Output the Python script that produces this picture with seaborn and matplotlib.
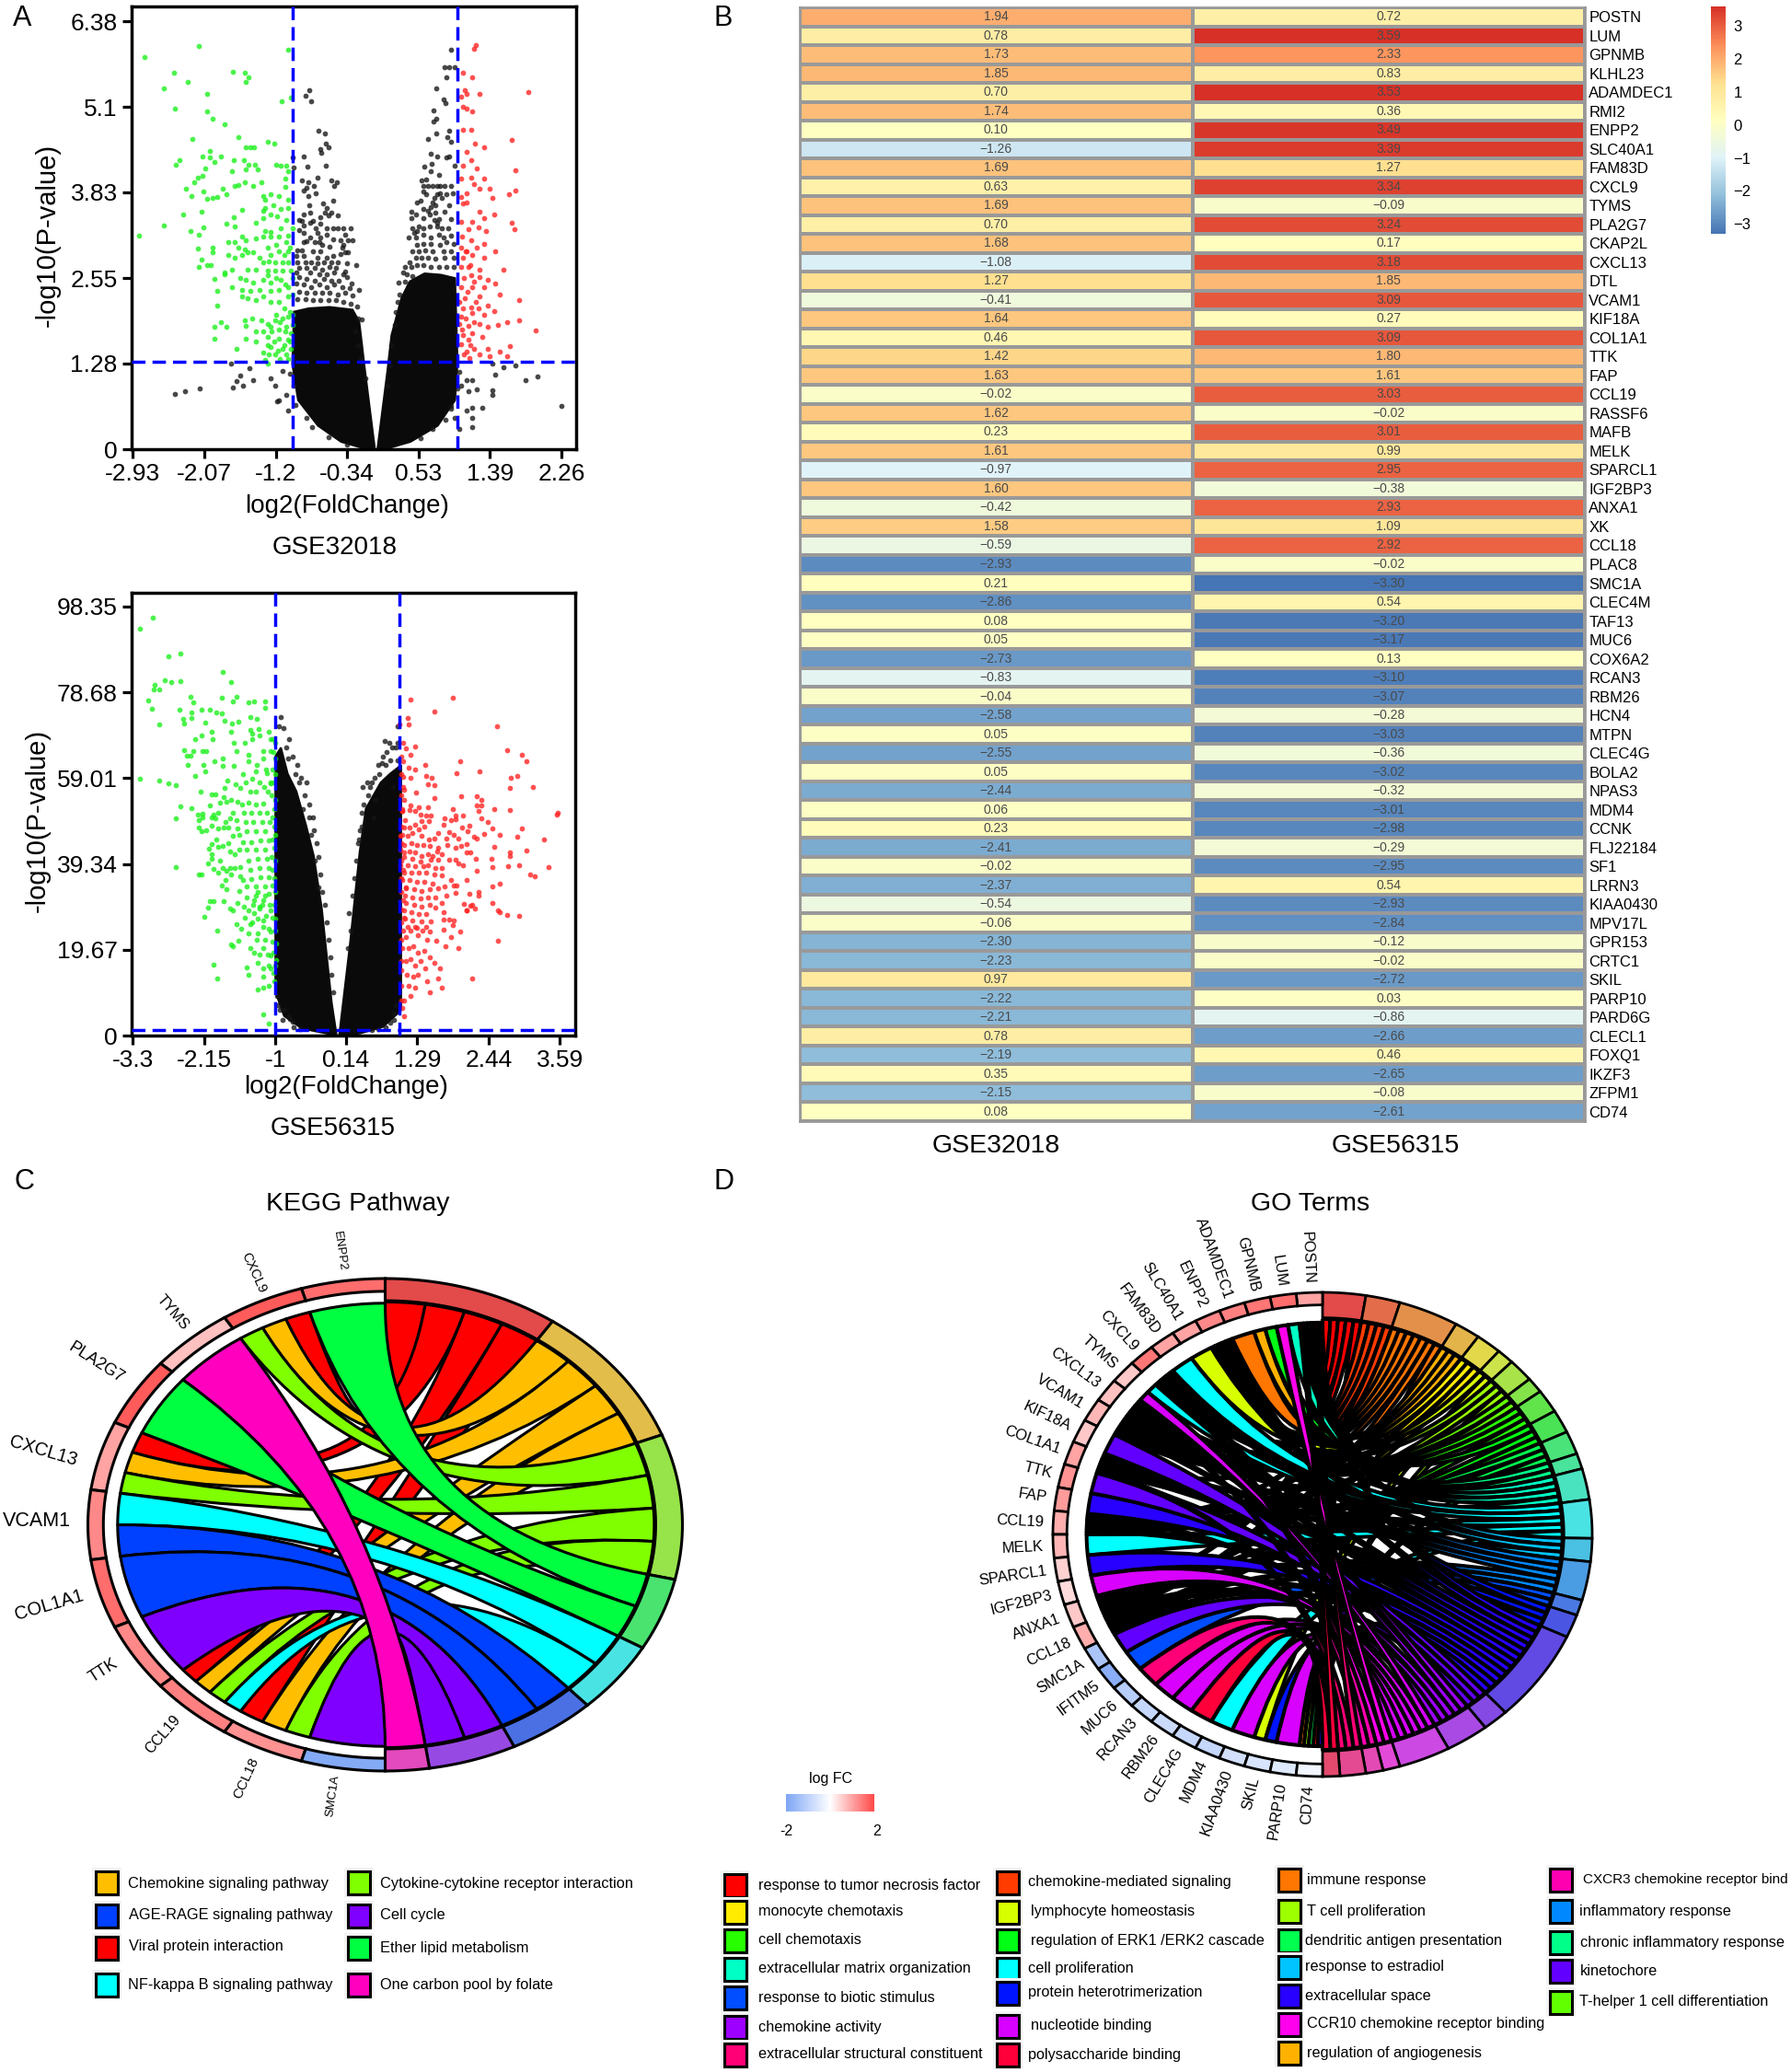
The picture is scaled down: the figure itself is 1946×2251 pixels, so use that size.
import numpy as np
import pandas as pd
import seaborn as sns
import matplotlib.pyplot as plt
from matplotlib.colors import LinearSegmentedColormap
from matplotlib.patches import PathPatch, Polygon, Rectangle
from matplotlib.path import Path

W, H = 1946, 2251

# volcano GSE32018, values
a_xticks = [-2.93, -2.07, -1.2, -0.34, 0.53, 1.39, 2.26]
a_yticks = [0, 1.28, 2.55, 3.83, 5.1, 6.38]
a_green = [(-2.79,5.84),(-2.13,6.01),(-2.43,5.61),(-2.27,5.48),(-2.56,5.38),(-2.42,5.08),(-2.03,5.29),(-2.03,5.03),
(-1.72,5.63),(-1.58,5.61),(-1.53,5.54),(-1.56,5.48),(-1.96,4.93),(-1.82,4.84),(-1.05,5.95),(-1.13,5.18),(-1.02,5.24),
(-2.21,4.63),(-1.65,4.65),(-1.30,4.58),(-1.22,4.56),(-1.56,4.5),(-1.51,4.5),(-1.46,4.5),(-2.0,4.44),(-2.09,4.37),
(-2.0,4.35),(-1.86,4.37),(-1.94,4.28),(-2.37,4.31),(-2.41,4.24),(-1.71,4.31),(-1.59,4.31),(-1.53,4.24),(-1.45,4.24),
(-1.56,4.17),(-2.05,4.19),(-1.73,4.15),(-1.42,4.17),(-1.2,4.24),(-1.14,4.22),(-1.07,4.23),(-1.05,4.15),(-1.09,4.04),
(-2.09,4.08),(-2.14,4.05),(-2.19,3.98),(-1.57,3.98),(-1.65,3.94),(-1.70,3.93),(-1.37,3.98),(-1.48,3.93),(-2.29,3.89),
(-2.08,3.84),(-1.84,3.88),(-2.22,3.78),(-2.03,3.73),(-1.97,3.75),(-1.91,3.76),(-1.80,3.8),(-1.35,3.77),(-1.26,3.80),
(-1.33,3.72),(-1.16,3.77),(-1.09,3.91),(-1.05,3.72),(-1.33,3.60),(-1.23,3.63),(-1.14,3.58),(-1.05,3.60),(-1.35,3.55),
(-1.26,3.50),(-1.19,3.47),(-1.07,3.42),(-1.35,3.44),(-2.1,3.54),(-2.32,3.5),(-1.61,3.57),(-2.55,3.33),(-1.71,3.46),
(-1.80,3.36),(-1.70,3.32),(-1.44,3.38),(-2.23,3.25),(-2.08,3.31),(-2.13,3.2),(-2.86,3.18),(-1.33,3.25),(-1.26,3.24),
(-1.14,3.30),(-1.35,3.17),(-1.05,3.19),(-1.61,3.17),(-1.56,3.12),(-1.77,3.09),(-1.70,3.09),(-1.07,3.09),(-1.16,3.17),
(-1.26,3.17),(-1.44,3.14),(-2.14,2.99),(-1.96,3.01),(-1.96,2.93),(-2.10,2.82),(-2.03,2.75),(-2.13,2.71),(-1.99,2.74),
(-1.65,3.01),(-1.58,2.98),(-1.54,2.93),(-1.48,2.93),(-1.70,2.85),(-1.77,2.90),(-1.61,2.90),(-1.30,3.01),(-1.16,2.95),
(-1.05,2.95),(-1.26,2.90),(-1.40,2.85),(-1.35,2.79),(-1.28,2.80),(-1.21,2.79),(-1.12,2.79),(-1.05,2.79),(-1.82,2.63),
(-1.73,2.68),(-1.54,2.68),(-1.44,2.68),(-1.30,2.66),(-1.21,2.66),(-1.12,2.66),(-1.02,2.66),(-1.94,2.54),(-1.63,2.55),
(-1.56,2.52),(-1.47,2.49),(-1.35,2.52),(-1.26,2.49),(-1.14,2.52),(-1.91,2.36),(-1.82,2.61),(-1.73,2.41),(-1.61,2.38),
(-1.51,2.36),(-1.40,2.38),(-1.26,2.36),(-1.16,2.38),(-1.05,2.41),(-1.91,2.14),(-1.61,2.28),(-1.54,2.25),(-1.44,2.22),
(-1.35,2.28),(-1.26,2.20),(-1.16,2.20),(-1.05,2.28),(-1.87,1.90),(-1.94,1.82),(-1.80,1.83),(-1.58,1.92),(-1.49,1.95),
(-1.56,1.84),(-1.37,1.92),(-1.30,1.87),(-1.21,1.92),(-1.12,1.95),(-1.05,1.98),(-1.0,2.01),(-1.94,1.65),(-1.56,1.65),
(-1.44,1.76),(-1.35,1.76),(-1.26,1.82),(-1.16,1.79),(-1.07,1.82),(-1.02,1.73),(-1.68,1.49),(-1.44,1.60),(-1.30,1.68),
(-1.16,1.65),(-1.05,1.63),(-1.35,1.44),(-1.26,1.52),(-1.12,1.49),(-1.02,1.49),(-1.21,1.41),(-1.07,1.41),(-1.33,1.33),(-1.30,1.27),
(-1.2,2.0),(-1.1,2.1),(-1.03,2.05),(-1.15,1.9),(-1.08,1.75),(-1.0,1.85),(-1.25,1.75),(-1.22,1.6),(-1.1,1.55),(-1.17,1.47),(-1.03,1.6),(-1.3,1.55),
(-1.28,1.42),(-1.05,1.35),(-1.15,1.35),(-1.0,2.3),(-1.08,2.45),(-1.0,2.55),(-1.2,2.55),(-1.3,2.6),(-1.1,2.9),(-1.03,3.0),(-1.2,3.05),(-1.0,3.3)]
a_red = [(1.22,6.02),(1.20,5.97),(1.06,5.61),(1.18,5.54),(1.09,5.35),(1.11,5.29),(1.04,5.26),(1.27,5.29),(1.86,5.33),
(1.06,5.11),(1.11,5.08),(1.18,5.03),(1.06,4.76),(1.16,4.76),(1.21,4.56),(1.11,4.43),(1.32,4.50),(1.65,4.61),(1.16,4.31),
(1.06,4.23),(1.23,4.18),(1.70,4.16),(1.04,4.04),(1.16,4.05),(1.32,4.04),(1.20,3.95),(1.11,3.82),(1.04,3.76),(1.27,3.88),
(1.39,3.89),(1.42,3.74),(1.70,3.86),(1.62,3.80),(1.06,3.66),(1.11,3.68),(1.27,3.54),(1.44,3.50),(1.04,3.39),(1.18,3.39),
(1.32,3.44),(1.65,3.38),(1.69,3.28),(1.13,3.28),(1.25,3.31),(1.05,3.17),(1.16,3.12),(1.34,3.25),(1.04,3.01),(1.11,2.95),
(1.23,3.01),(1.32,3.06),(1.46,2.95),(1.06,2.85),(1.18,2.90),(1.32,2.85),(1.04,2.71),(1.13,2.71),(1.27,2.68),(1.56,2.68),
(1.16,2.59),(1.27,2.57),(1.37,2.52),(1.04,2.41),(1.18,2.41),(1.32,2.41),(1.46,2.47),(1.09,2.25),(1.27,2.28),(1.51,2.30),
(1.74,2.22),(1.02,2.20),(1.16,2.11),(1.37,2.14),(1.04,1.98),(1.18,2.03),(1.32,2.00),(1.44,2.06),(1.02,1.87),(1.13,1.84),
(1.27,1.87),(1.60,1.90),(1.74,1.92),(1.06,1.70),(1.18,1.73),(1.37,1.82),(1.49,1.85),(1.95,1.77),(1.04,1.57),(1.13,1.63),
(1.30,1.68),(1.63,1.54),(1.11,1.46),(1.20,1.49),(1.37,1.49),(1.51,1.46),(1.60,1.38),(1.14,1.36),(1.27,1.41),(1.39,1.38),
(1.1,2.95),(1.15,2.75),(1.08,2.55),(1.2,2.5),(1.12,2.35),(1.22,2.2),(1.07,2.1),(1.25,2.1),(1.1,1.95),(1.2,1.9),(1.05,1.78),(1.15,1.55),(1.08,1.42)]
a_black = [(-.84,5.27),(-.79,5.35),(-.77,5.18),(-.68,4.75),(-.61,4.71),(-.60,4.56),(-.56,4.50),(-.66,4.48),(-.65,4.42),
(-1.0,4.35),(-.86,4.37),(-.82,4.21),(-.60,4.23),(-.99,4.20),(-.69,4.05),(-.88,4.00),(-.81,3.98),(-.53,4.00),(-.46,3.98),
(-.83,3.90),(-.74,3.93),(-.49,3.93),(-.86,3.85),(-.72,3.82),(-.81,3.77),(-.51,3.71),(-.63,3.66),(-.79,3.63),(-.58,3.60),
(.92,5.95),(.84,5.69),(.90,5.69),(.97,5.69),(.87,5.54),(.74,5.38),(.83,5.22),(.85,5.16),(.71,5.05),(.74,4.93),(.71,4.88),
(.90,4.75),(.74,4.71),(.64,4.63),(.88,4.65),(.92,4.58),(.67,4.40),(.75,4.37),(.90,4.36),(.87,4.35),(.60,4.21),(.69,4.25),
(.68,4.14),(.97,4.23),(.78,4.09),
(-1.74,1.27),(-1.52,1.21),(-1.63,1.10),(-1.68,1.01),(-1.47,1.03),(-1.60,.95),(-1.72,.92),(-2.12,.90),(-2.30,.87),(-2.42,.82),
(-1.26,1.06),(-1.21,.95),(-1.12,1.17),(-1.16,.73),(-1.07,.81),(-1.19,.71),(-1.05,.57),(1.11,1.03),(1.18,1.03),(1.04,.95),
(1.13,.87),(1.23,.89),(1.42,.88),(1.42,.81),(1.18,.62),(1.30,.62),(1.11,.57),(1.18,.46),(1.18,.33),(1.42,1.27),(1.45,1.11),
(1.56,1.22),(1.70,1.25),(1.82,1.03),(1.97,1.09),(2.26,.65),(.97,.46),(.92,.65),(1.02,.30)]
a_black_left = [(-.918,3.42),(-.863,3.50),(-.788,3.52),(-.603,3.52),(-.528,3.52),(-.454,3.48),(-.881,3.40),(-.863,3.34),(-.788,3.38),(-.751,3.40),
(-.658,3.46),(-.565,3.48),(-.658,3.36),(-.714,3.29),(-.584,3.29),(-.51,3.29),(-.454,3.29),(-.38,3.29),(-.294,3.29),(-.918,3.27),(-.863,3.22),
(-.695,3.22),(-.788,3.155),(-.863,3.09),(-.825,3.10),(-.658,3.155),(-.584,3.20),(-.51,3.13),(-.417,3.12),(-.361,3.20),(-.332,3.12),(-.268,3.12),
(-.733,3.09),(-.677,3.09),(-.547,3.02),(-.64,3.04),(-.38,3.05),(-.398,3.0),(-.881,2.96),(-.937,2.97),(-.751,2.95),(-.658,2.95),(-.51,2.88),(-.417,2.91),
(-.361,2.93),(-.324,2.93),(-.955,2.88),(-.863,2.88),(-.695,2.86),(-.584,2.86),(-.937,2.79),(-.844,2.79),(-.77,2.79),(-.695,2.77),(-.621,2.79),(-.528,2.79),
(-.454,2.79),(-.343,2.77),(-.231,2.74),(-.918,2.70),(-.825,2.70),(-.733,2.70),(-.64,2.68),(-.547,2.72),(-.473,2.70),(-.361,2.65),(-.955,2.63),(-.788,2.63),
(-.677,2.61),(-.584,2.61),(-.491,2.63),(-.38,2.61),(-.918,2.56),(-.825,2.54),(-.733,2.51),(-.621,2.54),(-.528,2.51),(-.436,2.51),(-.343,2.56),(-.28,2.47),
(-.955,2.47),(-.863,2.45),(-.77,2.42),(-.677,2.45),(-.584,2.42),(-.491,2.45),(-.398,2.42),(-.306,2.40),(-.194,2.38),(-.918,2.35),(-.825,2.33),(-.733,2.33),
(-.64,2.33),(-.547,2.33),(-.454,2.31),(-.361,2.33),(-.268,2.29),(-.937,2.24),(-.844,2.24),(-.751,2.22),(-.658,2.22),(-.565,2.22),(-.473,2.22),(-.38,2.19),
(-.294,2.17),(-.213,2.13),(-.157,1.94),(-.21,1.95),(-.24,1.75),(-.2,1.55),(-.17,1.35),(-.12,1.05),(-1.03,1.12),(-.99,.95),(-.96,.66),(-.83,.46),(-.76,.33),(-.56,.18),(-.34,.07)]
a_black_right = [(.567,4.0),(.623,4.02),(.586,3.93),(.642,3.93),(.697,3.93),(.753,3.93),(.79,3.93),(.846,3.93),(.92,3.93),(.586,3.84),(.623,3.80),(.753,3.80),
(.79,3.82),(.864,3.80),(.939,3.82),(.716,3.75),(.809,3.75),(.512,3.68),(.549,3.70),(.697,3.68),(.679,3.61),(.734,3.64),(.902,3.64),(.586,3.58),(.642,3.55),
(.734,3.52),(.445,3.54),(.493,3.50),(.437,3.44),(.586,3.45),(.66,3.50),(.846,3.54),(.772,3.43),(.92,3.43),(.53,3.32),(.716,3.41),(.753,3.38),(.456,3.29),
(.475,3.22),(.512,3.25),(.586,3.29),(.66,3.32),(.753,3.32),(.809,3.29),(.883,3.29),(.408,3.16),(.493,3.16),(.586,3.20),(.679,3.16),(.772,3.20),(.827,3.16),
(.92,3.18),(.512,3.04),(.586,3.06),(.679,3.06),(.79,3.04),(.864,3.09),(.957,3.06),(.456,2.95),(.53,2.95),(.605,2.97),(.697,2.95),(.827,2.95),(.92,2.95),
(.419,2.79),(.493,2.86),(.567,2.86),(.642,2.86),(.734,2.84),(.846,2.86),(.957,2.86),(.363,2.72),(.437,2.72),(.512,2.74),(.586,2.74),(.679,2.72),(.772,2.72),
(.864,2.72),(.957,2.72),(.345,2.64),(.289,2.49),(.382,2.61),(.456,2.58),(.3,2.3),(.27,2.2),(.25,2.05),(.36,2.5),(.24,1.85),(.2,1.55),(.18,1.25),(.15,.95),(1.02,1.15),(1.0,.9),(.92,.6),(.85,.44),(.7,.3),(.55,.17)]
a_left_lobe = [(0.0,0.0),(-.13,1.27),(-.155,1.54),(-.19,1.9),(-.27,2.08),(-.55,2.12),(-.8,2.1),(-.98,2.05),(-1.0,1.27),(-.93,.73),(-.69,.35),(-.41,.11),(-.1,0.0)]
a_right_lobe = [(.03,0.0),(.15,1.16),(.2,1.7),(.32,2.25),(.42,2.5),(.6,2.62),(.8,2.6),(.97,2.55),(1.0,1.3),(.97,.73),(.76,.35),(.43,.11),(.15,.01)]

# volcano GSE56315
b_xticks = [-3.3, -2.15, -1, 0.14, 1.29, 2.44, 3.59]
b_yticks = [0, 19.67, 39.34, 59.01, 78.68, 98.35]
b_green = [(-2.98,95.8),(-3.19,93.3),(-2.73,87),(-2.54,87.6),(-1.85,83.4),(-1.71,81),(-2.78,81.4),(-2.68,81.1),(-2.53,81.2),
(-2.95,80.4),(-2.96,79.3),(-2.87,79.3),(-3.06,76.8),(-2.99,74.9),(-2.88,71.3),(-2.37,77.7),(-2.33,76.4),(-1.62,77.7),(-1.68,76.5),
(-1.87,77.5),(-1.44,76.3),(-1.35,76.5),(-1.16,76.5),(-1.16,75.2),(-2.55,74.6),(-2.36,74.1),(-2.19,74.6),(-2.05,74.8),(-1.96,74.1),
(-1.87,73.9),(-2.49,72.5),(-2.48,71.6),(-2.36,72.7),(-2.13,71.8),(-2.03,69.6),(-1.82,72.1),(-1.40,73.1),(-1.30,72.5),(-1.60,72),
(-1.70,71.6),(-1.27,70.3),(-1.40,70),(-1.10,69.6),(-1.72,69.6),(-1.37,69.2),(-2.19,68.8),(-2.29,67.9),(-2.01,67.9),(-1.25,68.7),
(-1.67,67),(-1.49,67),(-1.37,67.9),(-1.07,67.9),(-2.48,65.4),(-2.32,65.1),(-2.37,64.1),(-2.43,64.1),(-2.18,65.2),(-2.12,65.2),
(-2.41,62),(-2.16,62),(-1.98,62.8),(-1.85,63.6),(-1.63,65.2),(-1.44,64.4),(-1.19,65.2),(-1.07,65.2),(-1.85,61.9),(-1.67,61.9),
(-1.44,62.8),(-1.19,63.6),(-1.0,63.6),(-3.19,58.8),(-2.87,58.5),(-2.73,57.9),(-2.61,57.5),(-2.29,59.6),(-2.13,60.5),(-1.77,58.5),
(-1.64,57.7),(-1.32,60.5),(-1.14,60.1),(-1.04,61),(-1.82,56.7),(-1.57,56.7),(-1.38,58.8),(-1.07,57.9),(-2.53,52.6),(-2.35,52.2),(-2.60,49.8),
(-2.6,38.6),(-2.19,36.9),(-2.15,27.3),(-1.94,24),(-1.72,20.9),(-1.60,21.7),(-1.44,23.4),(-1.28,23.4),(-1.07,23.8),(-.99,21.2),(-1.63,25.6),(-1.38,26),(-1.19,26.4),(-1.0,26.9),
(-1.69,28.6),(-1.44,28.6),(-1.25,29.1),(-1.07,28.6),(-1.41,20),(-1.19,20),(-1.07,18.3),(-.99,17.4),(-2.0,16.3),(-1.94,13.1),(-1.47,15.7),(-1.29,16.6),(-1.10,16.1),(-1.44,14),(-1.19,13.5),
(-1.03,14.4),(-1.29,10.5),(-1.19,10.9),(-1.10,11.3),(-1.19,4.9),(-1.10,2.8),(-1.69,20.4)]
b_green_mid = [(-2.2,55.9),(-2.03,55.2),(-1.97,55.2),(-1.83,54.6),(-2.05,52.8),(-1.89,53.3),(-1.79,53.5),(-1.71,54),(-1.61,53.5),(-1.54,53),(-1.43,53.3),(-1.31,53),(-1.19,53.2),
(-2.25,50.7),(-2.17,50.9),(-2.17,50),(-2.24,49.3),(-2,50.7),(-1.93,51.1),(-2.03,50),(-1.97,49.8),(-1.69,51.1),(-1.73,49.8),(-1.81,49),(-1.63,49.3),(-1.51,51.1),(-1.39,51.1),(-1.26,51.1),(-1.14,51.1),
(-2.03,48.1),(-2.23,47.7),(-2.12,47),(-2.19,46.8),(-1.93,47.5),(-1.83,47.7),(-1.76,47.7),(-1.61,47.5),(-1.48,49),(-1.36,49),(-1.21,49),(-1.09,49),
(-1.95,44.9),(-2.03,43.9),(-2.07,42.9),(-1.93,43.3),(-1.85,43.5),(-1.76,44),(-1.68,45.8),(-1.58,46.1),(-1.46,46.8),(-1.31,46.8),(-1.16,46.8),
(-1.73,42.3),(-1.66,41.6),(-1.53,44.4),(-1.39,44.4),(-1.24,44.7),(-1.11,44.7),(-2.03,41.6),(-2.03,40.6),(-2.09,39.4),(-1.89,40.1),(-1.58,42.6),(-1.46,42.6),(-1.31,42.6),(-1.16,42.6),
(-2,38.2),(-1.93,37.3),(-1.85,38.5),(-1.73,38.5),(-1.65,38.5),(-1.56,38.7),(-1.43,40.1),(-1.29,40.5),(-1.14,40.5),(-2.24,37),(-1.71,37),(-1.79,37.7),(-1.56,36.6),(-1.41,38),(-1.26,38.4),(-1.11,38.4),
(-1.87,34.5),(-1.79,33.6),(-1.81,35.7),(-1.53,35.6),(-1.39,35.9),(-1.24,36.3),(-1.11,36.3),(-1.58,33.1),(-1.46,34.2),(-1.31,34.2),(-1.16,34.2),
(-1.83,30.8),(-2.05,30.8),(-2,30.8),(-1.73,29.2),(-2.08,29.4),(-1.61,30.3),(-1.46,31.7),(-1.31,32),(-1.16,32),(-1.51,29.6),(-1.36,29.9),(-1.21,29.9),(-1.09,29.9),
(-1.35,31),(-1.28,33),(-1.2,31),(-1.25,29.5),(-1.1,32.5),(-1.05,34.5),(-1.02,30),(-1.35,28),(-1.15,27.5),(-1.28,26.8),(-1.05,27),(-1.2,25),(-1.4,25.5),(-1.1,24.5),(-1.0,24),(-1.3,22),(-1.17,22),(-1.05,21.5),
(-1.5,27),(-1.55,24.5),(-1.35,19),(-1.25,18.5),(-1.12,18.5),(-1.03,19),(-1.0,16),(-1.2,15.5),(-1.08,15.5),(-1.02,12.5),(-1.0,46),(-1.02,43),(-1.0,40),(-1.05,38),(-1.02,36),(-1.0,33),(-1.06,41),(-1.04,45),
(-1.02,48),(-1.05,50),(-1.02,52),(-1.0,54),(-1.06,55),(-1.03,58),(-1.0,60),(-1.08,58),(-1.12,56),(-1.18,57),(-1.25,58),(-1.32,56),(-1.4,56),(-1.48,58),(-1.52,60),(-1.3,62),(-1.15,61),(-1.03,65),(-1.0,67),(-1.05,68)]
b_red = [(1.18,77),(1.87,77.4),(1.56,74.3),(1.13,72.9),(1.15,71.4),(1.0,71.4),(2.57,71),(1.11,65.9),(1.25,66.2),(1.06,67.1),(1.18,64.4),
(1.42,62),(1.06,62.9),(1.15,61.5),(1.25,61),(1.99,62.9),(2.74,65.5),(2.98,64.3),(3.06,62.9),(1.93,60.1),(2.29,60.5),(2.8,59),(2.91,59.5),
(3.15,57),(1.44,59.5),(1.53,59),(1.06,59.3),(1.18,59),(1.46,57.7),(1.57,57.3),(2.79,56.7),(1.08,56.3),(1.27,55.8),(2.0,54.9),(2.25,54.9),(2.33,54.1),(1.08,54.1),
(1.57,54.4),(1.32,52.4),(1.18,52.8),(1.46,52.4),(2.25,52.8),(2.33,52.8),(2.28,51.5),(2.53,52),(2.79,51.7),(3.54,50.6),(3.56,51),(1.05,51.5),(1.87,52),
(2.33,49.8),(2.43,48.9),(2.5,47.5),(2.98,47.5),(2.37,46.3),(2.62,45.9),(2.9,45.5),(3.33,45),(2.53,43.3),(2.79,42),(3.06,42.4),(2.49,40.6),(2.79,41.1),(2.5,38.6),(2.75,38.8),(2.93,39.1),(3.41,38.6),(3.11,37),(3.18,36.6),
(2.62,34.9),(2.5,34.2),(2.28,32.9),(2.28,32),(2.18,30),(2.5,30.4),(2.59,28.6),(2.09,28.6),(2.62,28.3),(2.74,27.7),(2.93,27.4),(2.59,21.7),(2.18,13.1),
(1.03,48),(1.05,46),(1.03,44),(1.08,42),(1.03,40),(1.06,38),(1.03,36),(1.1,34),(1.03,33),(1.06,31),(1.03,29),(1.08,27),(1.03,26),(1.06,24),(1.03,22),(1.1,22.5),(1.18,24),(1.25,25),(1.3,23),(1.38,24),(1.45,22),
(1.15,20),(1.22,20.5),(1.3,19),(1.4,19.5),(1.5,18),(1.05,20),(1.03,17),(1.1,17),(1.18,17.5),(1.25,16),(1.35,17),(1.42,15.5),(1.03,15),(1.12,14),(1.22,13.5),(1.3,14),(1.45,12.5),(1.03,11.5),(1.15,11.5),(1.25,11),(1.5,10),
(1.08,8),(1.18,9),(1.03,8),(1.04,52),(1.03,55),(1.06,57),(1.03,60),(1.03,64),(1.05,6.3),(1.08,4.5),(1.6,21.7),(1.84,22.5),(1.74,20.4),(1.96,20),(1.56,16.6),(1.65,15.3),(1.62,13),(1.69,11),(1.99,23.8),(1.71,24.2),(1.49,23.8)]
b_red_mid = [(1.04,51.4),(1.16,51.7),(1.26,51.4),(1.44,50.4),(1.51,50.4),(1.34,50.7),(1.09,49.3),(1.26,48.4),(1.36,49.1),(1.48,49.1),(1.72,48.4),(1.83,49.3),(1.91,49.5),(1.91,50.5),(2.03,50.5),(2.02,47.7),(2.13,48.1),(2.10,46.9),(1.73,49.8),
(1.07,47.6),(1.16,47.6),(1.31,47.2),(1.41,47.9),(1.14,45.8),(1.02,45.8),(1.21,46.5),(1.36,45.8),(1.48,44.9),(1.56,45.1),(1.63,46.5),(1.81,46.7),(1.88,46),(1.96,45.1),(1.76,45.1),(2.2,45.5),(2.25,45.1),
(1.07,43.7),(1.19,44.2),(1.29,43.7),(1.39,43.7),(1.49,43.5),(1.63,43),(1.61,42.3),(1.78,43.7),(1.91,43),(2.0,43.5),(2.09,43.9),(2.08,41.9),(2.15,41.9),(1.02,42.6),(1.16,42.3),(1.26,41.9),(1.36,41.2),(1.46,41.6),(1.54,41.2),(1.68,41.6),(1.81,40.2),(1.91,40.2),
(1.07,40.9),(1.21,40.5),(1.34,39.8),(1.51,40.2),(1.63,40.2),(1.96,39.5),(2.03,39.1),(2.24,40.5),(1.02,39.1),(1.14,39.1),(1.26,38.8),(1.39,38.8),(1.46,39.1),(1.58,38.4),(1.68,38.4),(2.25,37.7),
(1.07,37.4),(1.19,37.4),(1.31,37.4),(1.44,37.4),(1.56,37),(1.68,36.7),(1.83,35.6),(1.93,34.5),(2.08,35.6),(1.04,35.6),(1.16,35.6),(1.29,35.2),(1.41,35.2),(1.54,34.9),(1.63,33.8),(1.73,34.2),(1.88,34.5),(2.13,32.4),
(1.11,33.8),(1.24,33.5),(1.36,33.1),(1.49,33.5),(1.76,32.1),(1.91,32.8),(1.09,32.1),(1.21,31.7),(1.34,31.4),(1.46,31.7),(1.58,31.7),(1.68,30.3),(2.05,30.1),(2.15,29.8),(2.09,28.6),(2.22,29.1),
(1.11,30.3),(1.24,30),(1.36,29.6),(1.49,30),(1.58,29.3),(1.07,28.6),(1.19,28.2),(1.31,27.8),(1.44,27.8),(1.71,28.2),(1.09,26.8),(1.21,26.4),(1.36,26.1),(1.51,26.1),(1.81,26.6),(1.88,26.4),(1.71,26.6),(1.86,25.4),(1.14,25),(1.29,24.7),(1.44,25)]
b_black = [(-.92,73),(-.95,71),(-.87,70.5),(-.82,66),(-.8,63.5),(-.68,60),(-.62,58),(-.52,55),(-.46,50),(-.42,46),(-.36,40),(-.3,34),(-.98,9),(-.96,7),(-.85,6),(-.8,4.5),
(-.72,3.2),(-.76,3.8),(.41,57),(.5,55),(.56,58),(.62,54),(.68,60),(.72,62.5),(.78,62),(.85,63),(.9,57),(.98,63),(.98,67),(.76,67.6),(.84,67.2),(.98,71),(.58,50),(.4,48),(.35,45),(.92,5),(.78,2),
(-.78,68),(-.72,64),(-.64,62),(-.58,59),(-.5,58),(-.55,52),(-.46,53),(-.4,50),(-.38,47),(-.33,44),(-.31,41),(-.27,37),(-.25,33),(-.2,30),(-.17,26),(-.14,22),(-.11,18),(-.09,14),(-.06,10),(-.93,6),(-.88,3.5),(-.7,2),(-.6,1.5),
(.22,24),(.19,28),(.17,20),(.25,32),(.28,36),(.3,40),(.33,44),(.36,47),(.39,51),(.42,53),(.48,58),(.52,57),(.6,59),(.66,62),(.74,64),(.8,65),(.88,66),(.95,66),(.92,3.5),(.85,3),(.66,1.5),(.95,7),(.55,1.2)]
b_left_lobe = [(-1.0,64),(-.91,66),(-.8,60),(-.66,56),(-.5,48),(-.38,41.2),(-.25,29.1),(-.09,7.5),(-.01,0.0),(-.57,1.6),(-.86,4.5),(-1.0,10.1)]
b_right_lobe = [(.03,0.0),(.2,20.4),(.36,42),(.46,52),(.7,58),(.85,60),(1.03,62),(1.03,5.8),(.74,2.0),(.37,.5),(.06,0.0)]

# heatmap
heat_genes = ['POSTN','LUM','GPNMB','KLHL23','ADAMDEC1','RMI2','ENPP2','SLC40A1','FAM83D','CXCL9','TYMS','PLA2G7','CKAP2L','CXCL13','DTL',
'VCAM1','KIF18A','COL1A1','TTK','FAP','CCL19','RASSF6','MAFB','MELK','SPARCL1','IGF2BP3','ANXA1','XK','CCL18','PLAC8','SMC1A','CLEC4M','TAF13',
'MUC6','COX6A2','RCAN3','RBM26','HCN4','MTPN','CLEC4G','BOLA2','NPAS3','MDM4','CCNK','FLJ22184','SF1','LRRN3','KIAA0430','MPV17L','GPR153',
'CRTC1','SKIL','PARP10','PARD6G','CLECL1','FOXQ1','IKZF3','ZFPM1','CD74']
heat_32018 = [1.94,.78,1.73,1.85,.70,1.74,.10,-1.26,1.69,.63,1.69,.70,1.68,-1.08,1.27,-.41,1.64,.46,1.42,1.63,-.02,1.62,.23,1.61,-.97,1.60,-.42,1.58,-.59,
-2.93,.21,-2.86,.08,.05,-2.73,-.83,-.04,-2.58,.05,-2.55,.05,-2.44,.06,.23,-2.41,-.02,-2.37,-.54,-.06,-2.30,-2.23,.97,-2.22,-2.21,.78,-2.19,.35,-2.15,.08]
heat_56315 = [.72,3.59,2.33,.83,3.53,.36,3.49,3.39,1.27,3.34,-.09,3.24,.17,3.18,1.85,3.09,.27,3.09,1.80,1.61,3.03,-.02,3.01,.99,2.95,-.38,2.93,1.09,2.92,
-.02,-3.30,.54,-3.20,-3.17,.13,-3.10,-3.07,-.28,-3.03,-.36,-3.02,-.32,-3.01,-2.98,-.29,-2.95,.54,-2.93,-2.84,-.12,-.02,-2.72,.03,-.86,-2.66,.46,-2.65,-.08,-2.61]

# KEGG chord
kegg_genes = ['ENPP2','CXCL9','TYMS','PLA2G7','CXCL13','VCAM1','COL1A1','TTK','CCL19','CCL18','SMC1A']
kegg_logfc = [1.6,1.8,.7,1.8,1.0,1.3,1.6,1.3,1.4,1.2,-1.9]
kegg_label_size = [9.5,10.5,11.5,13,14.5,15.5,14.5,13,11.5,11,9.5]
kegg_label_xy = [(369,1359),(276,1383),(188,1426),(104,1481),(47,1576),(40,1653),(53,1744),(112,1815),(177,1884),(267,1932),(362,1951)]
kegg_colors = ['#FF0000','#FFBF00','#80FF00','#00FF40','#00FFFF','#0040FF','#8000FF','#FF00BF']
kegg_links = [[3],[0,1,2],[7],[3],[0,1,2],[4,5],[5],[6],[0,1,2,4],[0,1,2],[6]]

# GO chord
go_genes = ['POSTN','LUM','GPNMB','ADAMDEC1','ENPP2','SLC40A1','FAM83D','CXCL9','TYMS','CXCL13','VCAM1','KIF18A','COL1A1','TTK','FAP','CCL19',
'MELK','SPARCL1','IGF2BP3','ANXA1','CCL18','SMC1A','IFITM5','MUC6','RCAN3','RBM26','CLEC4G','MDM4','KIAA0430','SKIL','PARP10','CD74']
go_logfc = [1.0,1.6,1.5,1.4,1.3,1.0,1.0,1.5,.6,.7,.8,.6,1.0,1.2,1.1,.9,.8,.5,.4,.6,.9,-1.3,-1.8,-1.1,-.9,-.8,-.9,-.9,-.7,-.6,-.5,-.2]
go_terms = ['response to tumor necrosis factor','chemokine-mediated signaling','immune response','regulation of angiogenesis','monocyte chemotaxis',
'lymphocyte homeostasis','T cell proliferation','T-helper 1 cell differentiation','cell chemotaxis','regulation of ERK1 /ERK2 cascade',
'dendritic antigen presentation','chronic inflammatory response','extracellular matrix organization','cell proliferation','response to estradiol',
'inflammatory response','response to biotic stimulus','protein heterotrimerization','extracellular space','kinetochore','chemokine activity',
'nucleotide binding','CCR10 chemokine receptor binding','CXCR3 chemokine receptor bind','extracellular structural constituent','polysaccharide binding']
go_colors = ['#FF0000','#FF3B00','#FF7600','#FFB100','#FFEC00','#D8FF00','#9DFF00','#62FF00','#27FF00','#00FF14','#00FF4E','#00FF89','#00FFC4',
'#00FFFF','#00C4FF','#0089FF','#004EFF','#0014FF','#2700FF','#6200FF','#9D00FF','#D800FF','#FF00EC','#FF00B1','#FF0076','#FF003B']
go_links = [[18,24,12,14,3,25],[12,22],[9,3],[2],[18,0,17,12,11,14],[5],[13],[1,15,20,2,23,22,6,8,18],[13,21],[1,15,20,2,23,7,8,18],[0,15,4,11,18,2,3],[19],
[12,18,0,14,17,13,24],[19],[18],[1,20,2,4,10,6,18,7],[13],[18],[21],[0,15,18,9,4,2,20],[1,20,15,8,10,18,9,16],[19],[16],[24],[21],[21],[25],[13],[21],[5,17],[21],[2,6,10,0,18]]

# legend rows (layout only)
kegg_legend = [(0,'Chemokine signaling pathway',116,2045,139,2046),(1,'AGE-RAGE signaling pathway',116,2081,140,2080),
(2,'Viral protein interaction',116,2116,140,2114),(3,'NF-kappa B signaling pathway',116,2156,139,2156),
(4,'Cytokine-cytokine receptor interaction',390,2045,413,2047),(5,'Cell cycle',390,2081,413,2080),
(6,'Ether lipid metabolism',390,2116,413,2116),(7,'One carbon pool by folate',390,2156,413,2157)]
kegg_legend_colors = ['#FFBF00','#0040FF','#FF0000','#00FFFF','#80FF00','#8000FF','#00FF40','#FF00BF']
go_legend = [(0,799,2048,824),(4,799,2077,824),(8,799,2108,824),(12,799,2139,824),(16,799,2170,824),(20,799,2202,824),(24,799,2232,824),
(1,1095,2045,1117),(5,1095,2077,1120),(9,1095,2108,1120),(13,1095,2139,1117),(17,1095,2165,1117),(21,1095,2201,1120),(25,1095,2232,1117),
(2,1401,2042,1420),(6,1401,2076,1420),(10,1401,2108,1418),(14,1401,2137,1418),(18,1401,2168,1418),(22,1401,2199,1420),(3,1401,2230,1420),
(23,1696,2042,1720),(15,1696,2076,1716),(11,1696,2110,1717),(19,1696,2141,1717),(7,1696,2175,1716)]

sns.set_theme(style='white')
plt.rcParams['font.family'] = ['Liberation Sans', 'DejaVu Sans']

fig = plt.figure(figsize=(W / 100, H / 100), dpi=100, facecolor='white')


def axes_px(l, t, r, b):
    return fig.add_axes([l / W, 1 - b / H, (r - l) / W, (b - t) / H])


def label(x, y, s, size, **kw):
    kw.setdefault('ha', 'center')
    kw.setdefault('va', 'center')
    fig.text(x / W, 1 - y / H, s, fontsize=size, color='black', **kw)


def volcano(ax, green, red, black, lobes, xticks, yticks, xlim, ylim):
    for lobe in lobes:
        ax.add_patch(Polygon(lobe, closed=True, fc='#0a0a0a', ec='#0a0a0a', lw=1.5, zorder=2))
    for pts, col in [(black, '#141414'), (green, '#1AF01A'), (red, '#FF2020')]:
        d = pd.DataFrame(pts, columns=['fc', 'p'])
        sns.scatterplot(data=d, x='fc', y='p', color=col, s=17, linewidth=0, alpha=.78, ax=ax, zorder=3)
    for x0 in (-1, 1):
        ax.axvline(x0, color='#0000FF', lw=2.5, dashes=(4.2, 2.2), zorder=4)
    ax.axhline(1.3, color='#0000FF', lw=2.5, dashes=(4.2, 2.2), zorder=4)
    ax.set_xlim(*xlim)
    ax.set_ylim(*ylim)
    ax.set_xticks(xticks)
    ax.set_xticklabels([str(t) for t in xticks])
    ax.set_yticks(yticks)
    ax.set_yticklabels([str(t) for t in yticks])
    ax.set_xlabel('')
    ax.set_ylabel('')
    ax.tick_params(axis='both', length=7, width=2.3, labelsize=19, pad=4, color='black', labelcolor='black', bottom=True, left=True)
    for s in ax.spines.values():
        s.set_linewidth(2.5)
        s.set_color('black')


ax_a = axes_px(143, 7, 626, 488)
volcano(ax_a, a_green, a_red, a_black + a_black_left + a_black_right, [a_left_lobe, a_right_lobe], a_xticks, a_yticks, (-2.945, 2.435), (0, 6.6))
label(377, 550, 'log2(FoldChange)', 20)
label(364, 595, 'GSE32018', 20)
label(52, 255, '-log10(P-value)', 21, rotation=90)

ax_b = axes_px(143, 644, 625, 1125)
volcano(ax_b, b_green + b_green_mid, b_red + b_red_mid, b_black, [b_left_lobe, b_right_lobe], b_xticks, b_yticks, (-3.32, 3.84), (0, 101.5))
label(376, 1181, 'log2(FoldChange)', 20)
label(362, 1226, 'GSE56315', 20)
label(41, 891, '-log10(P-value)', 21, rotation=90)

# heatmap
heat = pd.DataFrame({'GSE32018': heat_32018, 'GSE56315': heat_56315}, index=heat_genes)
heat_cmap = LinearSegmentedColormap.from_list(
    'rdylbu', ['#4575B4', '#91BFDB', '#E0F3F8', '#FFFFBF', '#FEE090', '#FC8D59', '#D73027'], N=100)
ax_h = axes_px(869, 8, 1722, 1218)
ax_cb = axes_px(1859, 7, 1875, 254)
notes = heat.map(lambda v: f'{v:.2f}'.replace('-', '\u2212'))
sns.heatmap(heat, ax=ax_h, cbar_ax=ax_cb, cmap=heat_cmap, vmin=-3.3, vmax=3.59, linewidths=1.5, linecolor='#999999',
            annot=notes, fmt='', annot_kws={'fontsize': 10, 'color': '#4a4a4a'}, xticklabels=False)
ax_h.yaxis.tick_right()
ax_h.set_yticks(np.arange(len(heat_genes)) + .5)
ax_h.set_yticklabels(heat_genes, rotation=0, fontsize=12, color='black')
ax_h.tick_params(axis='y', length=0, pad=3)
for s in ax_h.spines.values():
    s.set_visible(True)
    s.set_color('#999999')
    s.set_linewidth(2)
ax_cb.set_yticks([-3, -2, -1, 0, 1, 2, 3])
ax_cb.set_yticklabels(['\u22123', '\u22122', '\u22121', '0', '1', '2', '3'], fontsize=12, color='black')
ax_cb.tick_params(axis='y', length=0, pad=6)
label(1082, 1245, 'GSE32018', 20.5)
label(1516, 1245, 'GSE56315', 20.5)


# chord helpers, angles are clockwise from the top
def pol(a, r):
    t = np.radians(a)
    return r * np.sin(t), r * np.cos(t)


def arc(a0, a1, r, n=24):
    return [pol(a, r) for a in np.linspace(a0, a1, n)]


def segment(ax, a0, a1, r0, r1, col, lw):
    pts = arc(a0, a1, r1) + arc(a1, a0, r0)
    ax.add_patch(Polygon(pts, closed=True, fc=col, ec='black', lw=lw, clip_on=False, joinstyle='miter'))


def dull(hex_col):
    rgb = np.array([int(hex_col[i:i + 2], 16) for i in (1, 3, 5)])
    return tuple((74 + .6 * rgb) / 255)


logfc_cmap = LinearSegmentedColormap.from_list('bwr2', ['#7EA6F6', '#FFFFFF', '#FF4A4A'])


def chord(ax, genes, logfc, links, colors, term_in, gene_in, rib_term, rib_gene, lw, rib_lw):
    n = sum(len(l) for l in links)
    step = 180 / n
    w = 180 / len(genes)
    counts = [0] * len(colors)
    for l in links:
        for t in l:
            counts[t] += 1
    starts = np.concatenate([[0], np.cumsum(counts)])[:-1] * step
    used = [0] * len(colors)
    ribbons = []
    for g, l in enumerate(links):
        for k, t in enumerate(l):
            c0 = g * w + k * w / len(l)
            c1 = c0 + w / len(l)
            t0 = starts[t] + used[t] * step
            used[t] += 1
            ribbons.append((t, t0, t0 + step, 360 - c1, 360 - c0))
    ribbons.sort(key=lambda r: r[0])
    for t, t0, t1, g0, g1 in ribbons:
        tv = arc(t0, t1, rib_term, 8)
        gv = arc(g0, g1, rib_gene, 8)
        verts = list(tv) + [(0, 0), gv[0]] + gv[1:] + [(0, 0), tv[0]]
        codes = [Path.MOVETO] + [Path.LINETO] * 7 + [Path.CURVE3, Path.CURVE3] + [Path.LINETO] * 7 + [Path.CURVE3, Path.CURVE3]
        ax.add_patch(PathPatch(Path(verts, codes), fc=colors[t], ec='black', lw=rib_lw, clip_on=False, joinstyle='round'))
    for t, col in enumerate(colors):
        segment(ax, starts[t], starts[t] + counts[t] * step, term_in, 1, dull(col), lw)
    for g, v in enumerate(logfc):
        segment(ax, 360 - (g + 1) * w, 360 - g * w, gene_in, 1, logfc_cmap((v + 2) / 4), lw)
    ax.set_xlim(-1, 1)
    ax.set_ylim(-1, 1)
    ax.axis('off')


ax_c = axes_px(95.5, 1389, 741.5, 1924)
chord(ax_c, kegg_genes, kegg_logfc, kegg_links, kegg_colors, .91, .948, .905, .90, 2.2, 2.2)
w_k = 180 / len(kegg_genes)
for i, g in enumerate(kegg_genes):
    a = (i + .5) * w_k
    label(kegg_label_xy[i][0], kegg_label_xy[i][1], g, kegg_label_size[i], rotation=a - 90, rotation_mode='anchor')
label(389, 1308, 'KEGG Pathway', 20.5)

ax_d = axes_px(1144, 1404, 1730, 1930)
chord(ax_d, go_genes, go_logfc, go_links, go_colors, .895, .948, .89, .875, 2.0, 2.9)
w_g = 180 / len(go_genes)
for i, g in enumerate(go_genes):
    a = (i + .5) * w_g
    x, y = pol(-a, 1.035)
    ax_d.text(x, y, g, rotation=a - 90, rotation_mode='anchor', ha='right', va='center', fontsize=12, color='black', clip_on=False)
label(1424, 1308, 'GO Terms', 20.5)

# log FC bar
ax_lf = axes_px(854, 1949, 950, 1968)
sns.heatmap(np.linspace(-2, 2, 96).reshape(1, -1), ax=ax_lf, cmap=logfc_cmap, vmin=-2, vmax=2, cbar=False, xticklabels=False, yticklabels=False)
label(903, 1932, 'log FC', 11.5)
label(854, 1990, '-2', 11.5)
label(953, 1990, '2', 11.5)

# legends and panel letters on a full-figure pixel layer
ax_top = fig.add_axes([0, 0, 1, 1], zorder=-1)
ax_top.set_xlim(0, W)
ax_top.set_ylim(H, 0)
ax_top.axis('off')


def swatch(cx, cy, col):
    ax_top.add_patch(Rectangle((cx - 16, cy - 16), 32, 32, fc='#F3F3F3', ec='none'))
    ax_top.add_patch(Rectangle((cx - 12, cy - 12.5), 24, 25, fc=col, ec='black', lw=2.2))


for i, txt, sx, sy, tx, ty in kegg_legend:
    swatch(sx, sy, kegg_legend_colors[i])
    label(tx, ty, txt, 11.8, ha='left')
for t, sx, sy, tx in go_legend:
    swatch(sx, sy, go_colors[t])
    label(tx, sy, go_terms[t], 11 if t == 23 else 11.7, ha='left')

for s, x, y in [('A', 24, 20), ('B', 786, 20), ('C', 26, 1284), ('D', 786, 1284)]:
    label(x, y, s, 22)

fig.savefig('out.png', dpi=100)
